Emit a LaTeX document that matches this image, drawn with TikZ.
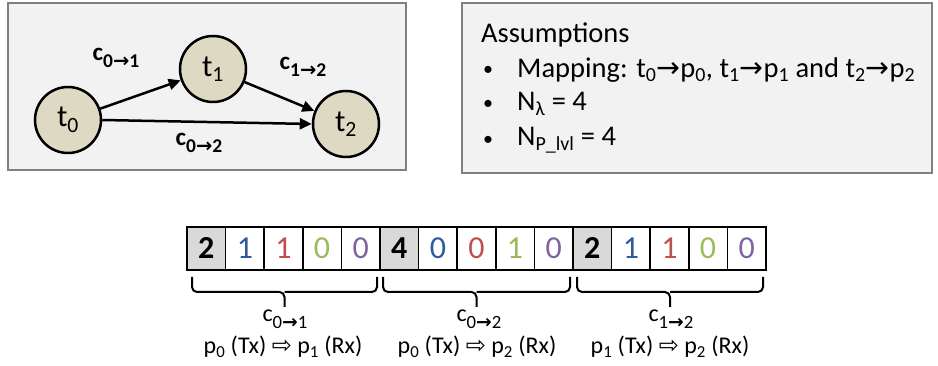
\documentclass[tikz,border=0pt]{standalone}
\usepackage{fontspec}
\usepackage{graphicx}
\setmainfont{Carlito}
\newfontfamily\dvs{DejaVu Sans}
\usetikzlibrary{arrows.meta,positioning}
\definecolor{boxfill}{HTML}{F2F2F2}
\definecolor{boxline}{HTML}{808080}
\definecolor{tan}{HTML}{DDD9C3}
\definecolor{cellgray}{HTML}{D9D9D9}
\definecolor{nblue}{HTML}{2E5B9A}
\definecolor{nred}{HTML}{C0504D}
\definecolor{ngreen}{HTML}{9BBB59}
\definecolor{npurple}{HTML}{8064A2}
\newcommand{\ra}{{\dvs\bfseries\char"2192}}
\newcommand{\rra}{{\dvs\char"2192}}
\newcommand{\wra}{{\dvs\char"21E8}}
\newcommand{\csub}[1]{\raisebox{-0.3em}{\scalebox{0.78}{#1}}}
\tikzset{
  panel/.style={draw=boxline,fill=boxfill,line width=2pt,inner sep=0pt},
  task/.style={circle,draw=black,fill=tan,line width=2.5pt,minimum size=66pt,inner sep=0pt,font=\fontsize{31}{36}\selectfont},
  edge/.style={line width=2.5pt,-{Triangle[length=12pt,width=11pt]}},
  elabel/.style={font=\bfseries\fontsize{25}{28}\selectfont,inner sep=0pt},
  atext/.style={anchor=west,inner sep=0pt,font=\fontsize{28.5}{32}\selectfont},
  bul/.style={anchor=center,inner sep=0pt,font=\fontsize{20}{24}\selectfont},
  cell/.style={draw=black,line width=1.7pt,outer sep=0pt,minimum width=38.6pt,minimum height=43pt,inner sep=0pt,font=\fontsize{32}{36}\selectfont,anchor=west},
  hcell/.style={cell,fill=cellgray,font=\bfseries\fontsize{32}{36}\selectfont},
  bracepath/.style={line width=2pt,rounded corners=5pt},
  blabel/.style={inner sep=0pt,font=\fontsize{24}{28}\selectfont},
  plabel/.style={inner sep=0pt,font=\fontsize{24}{28}\selectfont},
}
\begin{document}
\begin{tikzpicture}[x=1pt,y=-1pt]
\useasboundingbox (0,0) rectangle (938,366);
% panels
\node[panel,minimum width=398pt,minimum height=167pt] (graphbox) at (207,86.5) {};
\node[panel,minimum width=470pt,minimum height=170pt] (assbox) at (697,88) {};
% graph
\node[task] (t0) at (68,120) {t\textsubscript{0}};
\node[task] (t1) at (213,69) {t\textsubscript{1}};
\node[task] (t2) at (346,124) {t\textsubscript{2}};
\draw[edge] (t0) -- (t1);
\draw[edge] (t1) -- (t2);
\draw[edge] (t0.east) -- (t2.west);
\node[elabel] (l01) at (116,58) {c\csub{0\ra1}};
\node[elabel] (l12) at (303,67) {c\csub{1\ra2}};
\node[elabel] (l02) at (199,143) {c\csub{0\ra2}};
% assumptions
\node[atext] (ass) at (481,35) {Assumptions};
\node[bul] (b1) at (488,71) {\textbullet};
\node[atext] (m1) at (517,70) {Mapping: t\textsubscript{0}\rra p\textsubscript{0}, t\textsubscript{1}\rra p\textsubscript{1} and t\textsubscript{2}\rra p\textsubscript{2}};
\node[bul] (b2) at (488,105) {\textbullet};
\node[atext] (m2) at (517,104) {N\textsubscript{λ} = 4};
\node[bul] (b3) at (488,141) {\textbullet};
\node[atext] (m3) at (517,140) {N\textsubscript{P\_lvl} = 4};
% cells
\node[hcell] (c1) at (187,248.5) {2};
\node[cell,text=nblue,right=0pt of c1] (c2) {1};
\node[cell,text=nred,right=0pt of c2] (c3) {1};
\node[cell,text=ngreen,right=0pt of c3] (c4) {0};
\node[cell,text=npurple,right=0pt of c4] (c5) {0};
\node[hcell,right=0pt of c5] (c6) {4};
\node[cell,text=nblue,right=0pt of c6] (c7) {0};
\node[cell,text=nred,right=0pt of c7] (c8) {0};
\node[cell,text=ngreen,right=0pt of c8] (c9) {1};
\node[cell,text=npurple,right=0pt of c9] (c10) {0};
\node[hcell,right=0pt of c10] (c11) {2};
\node[cell,text=nblue,right=0pt of c11] (c12) {1};
\node[cell,text=nred,right=0pt of c12] (c13) {1};
\node[cell,text=ngreen,right=0pt of c13] (c14) {0};
\node[cell,text=npurple,right=0pt of c14] (c15) {0};
% braces
\draw[bracepath] (192,277) -- (192,292) -- (284.5,292) -- (284.5,307);
\draw[bracepath] (377,277) -- (377,292) -- (284.5,292);
\draw[bracepath] (383,277) -- (383,292) -- (476.5,292) -- (476.5,307);
\draw[bracepath] (570,277) -- (570,292) -- (476.5,292);
\draw[bracepath] (577,277) -- (577,292) -- (670,292) -- (670,307);
\draw[bracepath] (763,277) -- (763,292) -- (670,292);
% brace labels
\node[blabel] (g1) at (285,319) {c\csub{0\ra1}};
\node[blabel] (g2) at (479,319) {c\csub{0\ra2}};
\node[blabel] (g3) at (671,319) {c\csub{1\ra2}};
\node[plabel] (p1) at (283,347) {p\textsubscript{0} (Tx) \wra\ p\textsubscript{1} (Rx)};
\node[plabel] (p2) at (477,347) {p\textsubscript{0} (Tx) \wra\ p\textsubscript{2} (Rx)};
\node[plabel] (p3) at (670,347) {p\textsubscript{1} (Tx) \wra\ p\textsubscript{2} (Rx)};
\end{tikzpicture}
\end{document}
